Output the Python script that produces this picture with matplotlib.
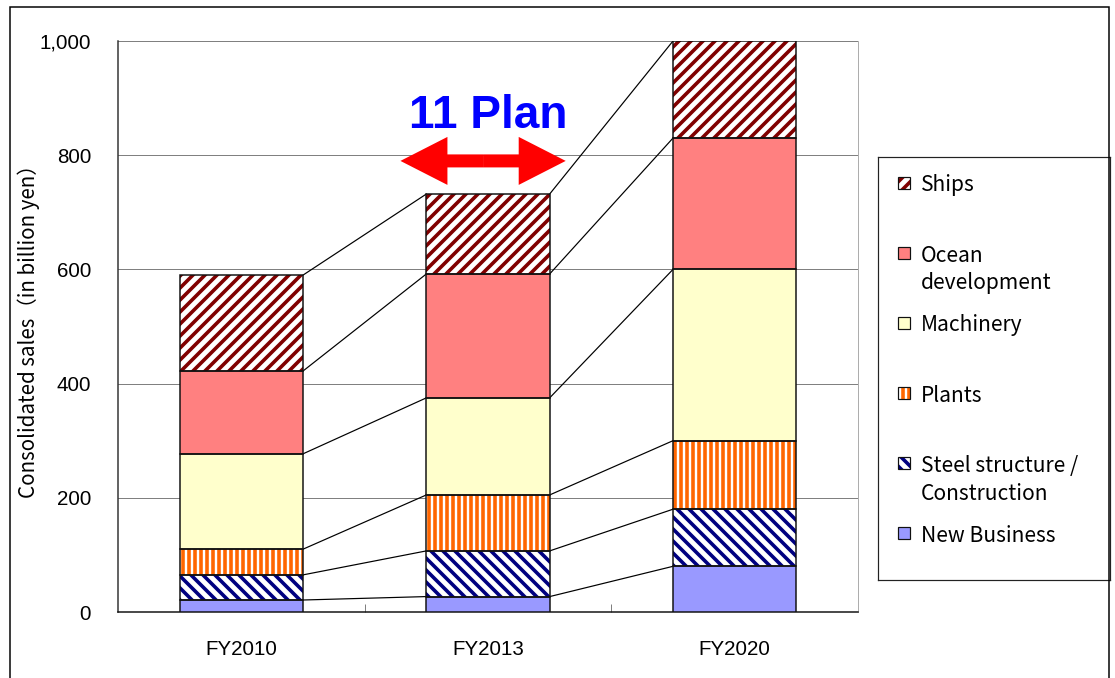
import matplotlib
matplotlib.use("Agg")
import matplotlib.pyplot as plt
from matplotlib.patches import Rectangle, FancyArrowPatch, ArrowStyle
from matplotlib.ticker import FuncFormatter
import numpy as np

# data (billion yen)
years = ["FY2010", "FY2013", "FY2020"]
series = ["New Business", "Steel structure /\nConstruction", "Plants",
          "Machinery", "Ocean\ndevelopment", "Ships"]
new_business = [21, 27, 80]
steel = [44, 80, 100]
plants = [45, 98, 120]
machinery = [167, 170, 300]
ocean = [145, 217, 230]
ships = [168, 140, 170]

# styles: (face colour, hatch colour, hatch)
styles = [
    ("#9999FF", None, None),
    ("white", "#000080", "\\\\"),
    ("white", "#FF6600", "||"),
    ("#FFFFCC", None, None),
    ("#FF8080", None, None),
    ("white", "#800000", "//"),
]

W, H, DPI = 1115, 678, 72
plt.rcParams["hatch.linewidth"] = 3.6
plt.rcParams["font.family"] = ["Liberation Sans", "DejaVu Sans"]
cjk = ["Noto Sans CJK JP", "DejaVu Sans"]

fig = plt.figure(figsize=(W / DPI, H / DPI), dpi=DPI)
ax = fig.add_axes([118 / W, 1 - 612 / H, 740 / W, 571 / H])

values = [new_business, steel, plants, machinery, ocean, ships]
x = np.arange(len(years))
width = 0.5
bottom = np.zeros(len(years))
levels = []
for vals, (face, hcol, hatch) in zip(values, styles):
    vals = np.array(vals, dtype=float)
    if hatch:
        ax.bar(x, vals, width, bottom=bottom, color=face, edgecolor=hcol,
               hatch=hatch, linewidth=0, zorder=3)
    else:
        ax.bar(x, vals, width, bottom=bottom, color=face, linewidth=0, zorder=3)
    ax.bar(x, vals, width, bottom=bottom, fill=False, edgecolor="#111111",
           linewidth=1.5, zorder=4)
    bottom = bottom + vals
    levels.append(bottom.copy())

# connector lines between the bars
for lev in levels:
    for i in range(len(years) - 1):
        ax.plot([x[i] + width / 2, x[i + 1] - width / 2], [lev[i], lev[i + 1]],
                color="black", linewidth=1.2, zorder=2)

ax.set_xlim(-0.5, 2.5)
ax.set_ylim(0, 1000)
ax.set_yticks(np.arange(0, 1001, 200))
ax.yaxis.set_major_formatter(FuncFormatter(lambda v, p: f"{v:,.0f}"))
ax.yaxis.grid(True, color="#808080", linewidth=1)
ax.set_axisbelow(True)
ax.tick_params(axis="y", length=0, pad=27, labelsize=20.5)
ax.set_xticks(x)
ax.set_xticklabels(years)
ax.set_xticks([0.5, 1.5], minor=True)
ax.tick_params(axis="x", which="major", length=0, pad=28, labelsize=20.5)
ax.tick_params(axis="x", which="minor", direction="in", length=8, width=1,
               color="#808080")
ax.spines["top"].set_visible(False)
ax.spines["right"].set_color("#999999")
ax.spines["left"].set_color("#333333")
ax.spines["left"].set_linewidth(1.5)
ax.spines["bottom"].set_color("#111111")
ax.spines["bottom"].set_linewidth(1.5)

ax.set_ylabel("Consolidated sales（in billion yen）", fontsize=20.5,
              family=cjk, labelpad=0)
ax.yaxis.set_label_coords(-78 / 740, 0.5)

# "11 Plan" banner with the red double arrow
ax.text(1.0, 869, "11 Plan", ha="center", va="center", fontsize=46,
        fontweight="bold", color="#0000FF", zorder=6)
style = ArrowStyle.Simple(head_length=47, head_width=48, tail_width=13)
for end in (0.645, 1.315):
    ax.add_patch(FancyArrowPatch((0.98, 790), (end, 790), arrowstyle=style,
                                 mutation_scale=1, shrinkA=0, shrinkB=0,
                                 color="#FF0000", linewidth=0, zorder=6))

# legend drawn in pixel units
lax = fig.add_axes([878 / W, 1 - 580 / H, 232 / W, 423 / H])
lax.set_xlim(0, 232)
lax.set_ylim(423, 0)
lax.set_xticks([])
lax.set_yticks([])
for s in lax.spines.values():
    s.set_color("#222222")
    s.set_linewidth(1.2)
for k, (name, (face, hcol, hatch)) in enumerate(reversed(list(zip(series, styles)))):
    yc = 26 + 70 * k
    lax.add_patch(Rectangle((20, yc - 6), 12, 12, facecolor=face,
                            edgecolor=hcol or face, hatch=hatch, linewidth=0))
    lax.add_patch(Rectangle((20, yc - 6), 12, 12, fill=False,
                            edgecolor="#111111", linewidth=1.2))
    for j, line in enumerate(name.split("\n")):
        lax.text(43, yc + 28 * j, line, va="center_baseline", ha="left",
                 fontsize=21, family=cjk)

# outer frame
fig.add_artist(Rectangle((10 / W, -0.1), 1099 / W, (678 - 7) / H + 0.1,
                         transform=fig.transFigure, fill=False,
                         edgecolor="black", linewidth=1.5))

fig.savefig("out.png", dpi=DPI)
